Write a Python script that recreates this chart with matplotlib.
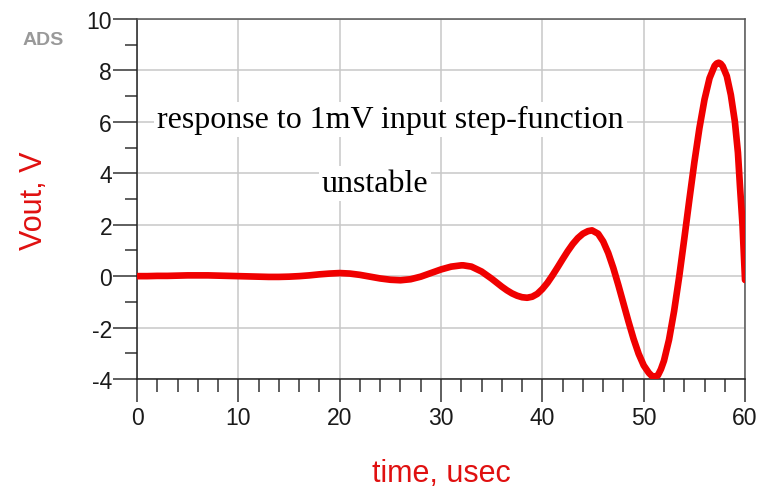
import numpy as np
import matplotlib
matplotlib.use("Agg")
import matplotlib.pyplot as plt
from matplotlib.ticker import MultipleLocator

# time axis (usec) and output voltage (V)
time_us = [0, 1, 2, 3, 4, 5, 6, 7, 8, 9, 10, 11, 12, 13, 14, 15, 16, 17, 18, 19,
           20, 21, 22, 23, 24, 25, 26, 27, 28, 29, 30, 31, 32, 32.2, 33, 34, 35,
           36, 36.5, 37, 37.5, 38, 38.5, 39, 39.5, 40, 40.5, 41, 41.5, 42, 42.5,
           43, 43.5, 44, 44.5, 44.9, 45.5, 46, 46.5, 47, 47.5, 48, 48.5, 49, 49.5,
           50, 50.5, 50.8, 51.1, 51.4, 51.7, 52, 52.5, 53, 53.5, 54, 54.5, 55, 55.5, 56,
           56.5, 57, 57.2, 57.4, 57.6, 57.8, 58.2, 58.6, 59, 59.3, 59.5, 59.75, 60]
vout = [0.00, 0.00, 0.01, 0.01, 0.02, 0.03, 0.03, 0.03, 0.02, 0.01, 0.00, -0.01,
        -0.02, -0.03, -0.03, -0.02, 0.00, 0.03, 0.07, 0.10,
        0.12, 0.10, 0.05, -0.02, -0.09, -0.14, -0.16, -0.12, -0.02, 0.12, 0.26,
        0.37, 0.42, 0.42, 0.37, 0.18, -0.10,
        -0.41, -0.55, -0.67, -0.76, -0.82, -0.84, -0.80, -0.69, -0.50, -0.26, 0.03,
        0.34, 0.66, 0.97,
        1.25, 1.48, 1.65, 1.75, 1.78, 1.65, 1.35, 0.90, 0.32, -0.35, -1.06,
        -1.77, -2.44, -3.02,
        -3.47, -3.76, -3.88, -3.92, -3.86, -3.62, -3.29, -2.47, -1.36, -0.03, 1.44, 2.96,
        4.43, 5.76, 6.87,
        7.70, 8.18, 8.27, 8.30, 8.26, 8.16, 7.78, 7.05, 6.00, 4.80, 3.50, 2.00, -0.15]

x_ticks = [0, 10, 20, 30, 40, 50, 60]
y_ticks = [-4, -2, 0, 2, 4, 6, 8, 10]

fig = plt.figure(figsize=(7.79, 4.89), dpi=100)
ax = fig.add_axes([0.1759, 0.2229, 0.7805, 0.7362])

ax.plot(time_us, vout, color="#f00000", lw=4.8, solid_capstyle="round",
        solid_joinstyle="round", zorder=3)

ax.set_xlim(0, 60)
ax.set_ylim(-4, 10)
ax.set_xticks(x_ticks)
ax.set_yticks(y_ticks)
ax.xaxis.set_minor_locator(MultipleLocator(2))
ax.yaxis.set_minor_locator(MultipleLocator(1))
ax.grid(True, which="major", color="#c8c8c8", lw=1.1, zorder=0)

tick_font = {"family": "Liberation Sans", "size": 16.5}
ax.set_xticklabels([str(v) for v in x_ticks], fontdict=tick_font, color="#1a1a1a")
ax.set_yticklabels([str(v) for v in y_ticks], fontdict=tick_font, color="#1a1a1a")
ax.tick_params(axis="x", which="major", direction="out", length=16.5, width=1.1,
               color="#333333", pad=3)
ax.tick_params(axis="x", which="minor", direction="out", length=9, width=1.1,
               color="#333333")
ax.tick_params(axis="y", which="major", direction="out", length=17, width=1.1,
               color="#333333", pad=1)
ax.tick_params(axis="y", which="minor", direction="out", length=8.5, width=1.1,
               color="#333333")

for side in ["left", "bottom"]:
    ax.spines[side].set_color("#222222")
    ax.spines[side].set_linewidth(1.1)
for side in ["top", "right"]:
    ax.spines[side].set_color("#555555")
    ax.spines[side].set_linewidth(1.1)

box = dict(facecolor="white", edgecolor="none", pad=2)
ax.text(25, 5.8, "response to 1mV input step-function", ha="center", va="baseline",
        family="Liberation Serif", fontsize=23, color="black", bbox=box, zorder=4)
ax.text(23.5, 3.3, "unstable", ha="center", va="baseline",
        family="Liberation Serif", fontsize=23, color="black", bbox=box, zorder=4)

fig.text(0.567, 0.031, "time, usec", ha="center", va="center", color="#e01010",
         family="Liberation Sans", fontsize=22)
fig.text(0.044, 0.589, "Vout, V", ha="center", va="center", rotation=90,
         color="#e01010", family="Liberation Sans", fontsize=22)
fig.text(0.055, 0.918, "ADS", ha="center", va="center", color="#999999",
         family="Liberation Sans", fontsize=14, weight="bold")

fig.savefig("out.png", dpi=100)
